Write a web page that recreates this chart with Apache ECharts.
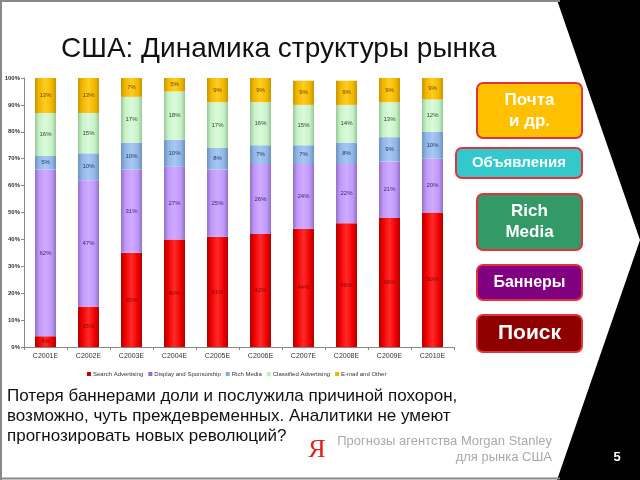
<!DOCTYPE html>
<html><head><meta charset="utf-8">
<script src="https://cdn.jsdelivr.net/npm/echarts@6/dist/echarts.min.js"></script>
<style>html,body{margin:0;padding:0;background:#fff}#c{width:640px;height:480px}</style>
</head><body><div id="c"></div>
<script>
const categories = ['C2001E','C2002E','C2003E','C2004E','C2005E','C2006E','C2007E','C2008E','C2009E','C2010E'];
const searchAdv = [4,15,35,40,41,42,44,46,48,50];
const displaySpons = [62,47,31,27,25,26,24,22,21,20];
const richMedia = [5,10,10,10,8,7,7,8,9,10];
const classified = [16,15,17,18,17,16,15,14,13,12];
const emailOther = [13,13,7,5,9,9,9,9,9,9];
const seriesNames = ['Search Advertising','Display and Sponsorship','Rich Media','Classified Advertising','E-mail and Other'];
const yTicks = [0,10,20,30,40,50,60,70,80,90,100];

const title = 'США: Динамика структуры рынка';
const bodyLines = ['Потеря баннерами доли и послужила причиной похорон,','возможно, чуть преждевременных. Аналитики не умеют','прогнозировать новых революций?'];
const sourceLines = ['Прогнозы агентства Morgan Stanley','для рынка США'];

function cyl(dark, base, light){
  return {type:'linear',x:0,y:0,x2:1,y2:0,colorStops:[
    {offset:0,color:dark},{offset:0.2,color:base},{offset:0.5,color:light},{offset:0.8,color:base},{offset:1,color:dark}]};
}
const styles = [
  {c:cyl('#B00000','#F00000','#FF2a2a'), lc:'#8a0000', leg:'#cc0000'},
  {c:cyl('#9070C8','#C099F8','#CFAAFF'), lc:'#3a2a70', leg:'#9966cc'},
  {c:cyl('#6C90C0','#92B6E6','#A6C8F2'), lc:'#223a6a', leg:'#88aadd'},
  {c:cyl('#98C898','#C8F2C8','#DAFADA'), lc:'#2a4a2a', leg:'#bbeebb'},
  {c:cyl('#C89400','#F2B800','#FFCC22'), lc:'#6a4a00', leg:'#eeb400'}
];
const dataSets = [searchAdv, displaySpons, richMedia, classified, emailOther];

const chart = echarts.init(document.getElementById('c'), null, {renderer:'canvas'});
const series = dataSets.map((d,i)=>({
  name: seriesNames[i], type:'bar', stack:'total', barWidth:21, data:d,
  itemStyle:{color:styles[i].c},
  label:{show:true, position:'inside', formatter:'{c}%', fontSize:6, color:styles[i].lc, fontFamily:'Liberation Sans'}
}));

function box(x,y,w,h,fill,lines,fs){
  const children=[{type:'rect',z:100,shape:{x:x,y:y,width:w,height:h,r:6},style:{fill:fill,stroke:'#E2333A',lineWidth:2}}];
  const lh = fs*1.25;
  const y0 = y + h/2 - (lines.length-1)*lh/2;
  lines.forEach((t,k)=>children.push({type:'text',z:101,style:{x:x+w/2,y:y0+k*lh,text:t,fill:'#fff',font:'bold '+fs+'px "Liberation Sans", Arial',align:'center',verticalAlign:'middle'}}));
  return children;
}

const graphics = [
  {type:'polygon',z:100,shape:{points:[[557,0],[640,0],[640,480],[557,480],[640,240]]},style:{fill:'#000'}},
  {type:'line',z:100,shape:{x1:0,y1:1,x2:560,y2:1},style:{stroke:'#888',lineWidth:2}},
  {type:'line',z:100,shape:{x1:0,y1:478.5,x2:560,y2:478.5},style:{stroke:'#888',lineWidth:2}},
  {type:'line',z:100,shape:{x1:1,y1:0,x2:1,y2:480},style:{stroke:'#888',lineWidth:2}},
  {type:'text',z:100,style:{x:61,y:49,text:title,fill:'#111',font:'28px "Liberation Sans", Arial',verticalAlign:'middle'}},
  ...bodyLines.map((t,k)=>({type:'text',z:100,style:{x:7,y:396+k*20,text:t,fill:'#111',font:'17px "Liberation Sans", Arial',verticalAlign:'middle'}})),
  {type:'text',z:100,style:{x:317,y:450,text:'Я',fill:'#E0201A',font:'26px "Liberation Serif", serif',align:'center',verticalAlign:'middle'}},
  ...sourceLines.map((t,k)=>({type:'text',z:100,style:{x:552,y:441+k*16,text:t,fill:'#aaa',font:'13px "Liberation Sans", Arial',align:'right',verticalAlign:'middle'}})),
  {type:'text',z:101,style:{x:617,y:457,text:'5',fill:'#fff',font:'bold 13px "Liberation Sans", Arial',align:'center',verticalAlign:'middle'}},
  ...box(477,83,105,55,'#FFC000',['Почта','и др.'],17),
  ...box(456,148,126,30,'#33C8CC',['Объявления'],15),
  ...box(477,194,105,56,'#339966',['Rich','Media'],17),
  ...box(477,265,105,35,'#800080',['Баннеры'],16),
  ...box(477,315,105,37,'#8E0000',['Поиск'],21)
];

chart.setOption({
  animation:false,
  backgroundColor:'#fff',
  textStyle:{fontFamily:'Liberation Sans'},
  grid:{left:24,top:78,width:430,height:269,containLabel:false},
  legend:{left:82,top:366,itemWidth:4,itemHeight:4,itemGap:5,icon:'rect',
    textStyle:{fontSize:6,color:'#333',padding:[0,0,0,-3]},
    data:seriesNames.map((n,i)=>({name:n,itemStyle:{color:styles[i].leg}}))},
  xAxis:{type:'category',data:categories,
    axisLine:{lineStyle:{color:'#888'}},
    axisTick:{show:true,length:3,lineStyle:{color:'#888'}},
    axisLabel:{fontSize:7,color:'#333',margin:6}},
  yAxis:{type:'value',min:yTicks[0],max:yTicks[yTicks.length-1],interval:10,
    axisLine:{show:true,lineStyle:{color:'#888'}},
    axisTick:{show:true,length:3,lineStyle:{color:'#888'}},
    splitLine:{show:false},
    axisLabel:{fontSize:6,color:'#333',fontWeight:'bold',margin:4,formatter:'{value}%'}},
  series:series,
  graphic:{elements:graphics}
});
</script></body></html>
